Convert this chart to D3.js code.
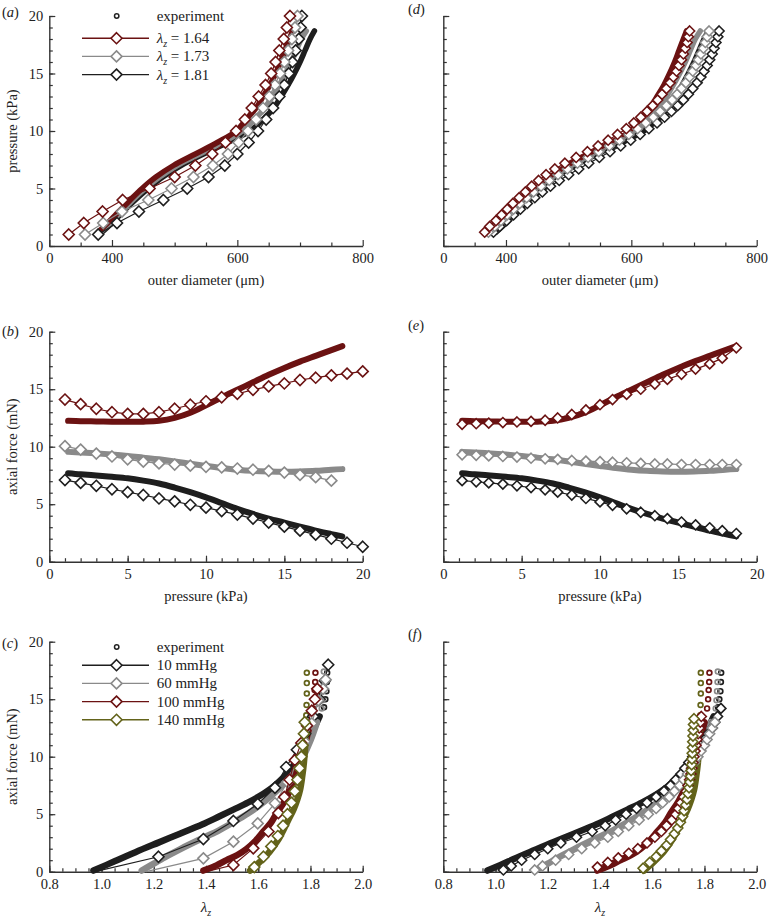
<!DOCTYPE html>
<html>
<head>
<meta charset="utf-8">
<script src="https://cdn.jsdelivr.net/npm/d3@7"></script>
<style>
body { margin: 0; background: #fff; }
svg text { font-family: "Liberation Serif", "DejaVu Serif", serif; fill: #222; }
</style>
</head>
<body>
<div id="chart"></div>
<script>
// ---------- data ----------
// (a)/(d): pressure (kPa) vs outer diameter (um), experiment
var expP = [1.2, 2, 3, 4, 5, 6, 7, 8, 9, 10, 11, 12, 13, 14, 15, 16, 17, 18, 18.7];
var expDiamRed   = [378, 393, 411, 429, 448, 470, 498, 533, 568, 598, 614, 630, 641, 652, 661, 669, 676, 683, 688];
var expDiamGray  = [381, 397, 415, 433, 453, 476, 504, 540, 576, 608, 627, 644, 656, 667, 677, 686, 694, 702, 710];
var expDiamBlack = [384, 400, 418, 437, 458, 481, 510, 546, 584, 620, 641, 658, 670, 681, 691, 700, 708, 716, 723];

// (a) model, pressure 1..20 kPa
var modP = [1, 2, 3, 4, 5, 6, 7, 8, 9, 10, 11, 12, 13, 14, 15, 16, 17, 18, 19, 20];
var modDiamRed   = [331, 355, 385, 417, 460, 500, 533, 560, 581, 598, 612, 623, 634, 645, 654, 661, 667, 674, 679, 684];
var modDiamGray  = [357, 386, 416, 458, 495, 530, 561, 585, 602, 617, 630, 641, 651, 660, 668, 675, 681, 687, 692, 696];
var modDiamBlack = [378, 408, 443, 482, 520, 554, 580, 600, 618, 633, 646, 657, 667, 675, 682, 688, 693, 698, 701, 703];

// (d) model, finer pressure steps
var fineP = [1.2, 1.7, 2.2, 2.7, 3.2, 3.7, 4.2, 4.7, 5.2, 5.7, 6.2, 6.7, 7.2, 7.7, 8.2, 8.7, 9.2, 9.7,
             10.2, 10.7, 11.2, 11.7, 12.2, 12.7, 13.2, 13.7, 14.2, 14.7, 15.2, 15.7, 16.2, 16.7, 17.2, 17.7, 18.2, 18.7];
var fitDiamRed   = [366, 374, 384, 393, 402, 411, 421, 431, 441, 452, 464, 478, 494, 512, 530, 547, 563, 578,
                    592, 604, 615, 625, 634, 642, 649, 656, 662, 667, 672, 676, 680, 683, 686, 689, 691, 693];
var fitDiamGray  = [372, 382, 392, 402, 412, 422, 433, 444, 456, 469, 483, 498, 514, 531, 548, 565, 581, 596,
                    610, 623, 635, 646, 656, 665, 673, 680, 687, 693, 698, 703, 707, 711, 715, 718, 721, 724];
var fitDiamBlack = [380, 390, 401, 412, 423, 434, 446, 458, 471, 485, 500, 516, 532, 549, 566, 583, 599, 614,
                    628, 641, 653, 664, 674, 683, 691, 698, 705, 711, 716, 721, 725, 729, 732, 735, 738, 740];

// (b)/(e): axial force (mN) vs pressure, experiment on expP
var expForceRed   = [12.25, 12.22, 12.2, 12.18, 12.17, 12.18, 12.25, 12.5, 12.95, 13.6, 14.3, 14.95, 15.6, 16.25, 16.85, 17.4, 17.9, 18.4, 18.75];
var expForceGray  = [9.55, 9.5, 9.42, 9.32, 9.2, 9.05, 8.9, 8.72, 8.52, 8.33, 8.15, 8.0, 7.9, 7.85, 7.83, 7.85, 7.9, 8.0, 8.05];
var expForceBlack = [7.7, 7.6, 7.5, 7.38, 7.25, 7.05, 6.8, 6.45, 6.05, 5.6, 5.1, 4.6, 4.15, 3.75, 3.4, 3.05, 2.7, 2.4, 2.2];

// (b) model
var modForceRed   = [14.1, 13.7, 13.3, 13.0, 12.85, 12.85, 13.0, 13.3, 13.65, 13.95, 14.3, 14.6, 14.95, 15.25, 15.5, 15.8, 16.0, 16.2, 16.35, 16.55];
var modPGray      = [1, 2, 3, 4, 5, 6, 7, 8, 9, 10, 11, 12, 13, 14, 15, 16, 17, 18];
var modForceGray  = [10.05, 9.75, 9.4, 9.15, 8.9, 8.7, 8.55, 8.45, 8.35, 8.25, 8.2, 8.1, 8.0, 7.9, 7.75, 7.55, 7.35, 7.05];
var modForceBlack = [7.1, 6.85, 6.6, 6.3, 6.05, 5.8, 5.5, 5.25, 4.95, 4.7, 4.4, 4.1, 3.75, 3.4, 3.05, 2.7, 2.35, 2.0, 1.65, 1.3];

// (e) model
var fitP = [1.2, 2.1, 2.9, 3.8, 4.7, 5.6, 6.5, 7.3, 8.2, 9.1, 10.0, 10.8, 11.7, 12.6, 13.5, 14.3, 15.2, 16.1, 17.0, 17.8, 18.7];
var fitForceRed   = [11.95, 12.0, 12.05, 12.1, 12.15, 12.2, 12.3, 12.5, 12.8, 13.2, 13.65, 14.1, 14.55, 15.0, 15.45, 15.85, 16.3, 16.75, 17.2, 17.7, 18.6];
var fitForceGray  = [9.3, 9.25, 9.2, 9.15, 9.1, 9.0, 8.95, 8.9, 8.8, 8.75, 8.7, 8.65, 8.6, 8.55, 8.5, 8.5, 8.45, 8.45, 8.45, 8.45, 8.45];
var fitForceBlack = [7.05, 6.95, 6.85, 6.75, 6.6, 6.45, 6.25, 6.05, 5.8, 5.5, 5.2, 4.9, 4.6, 4.3, 4.0, 3.75, 3.45, 3.2, 2.95, 2.7, 2.45];

// (c)/(f): axial force vs lambda_z, experiment (dense part)
var exp10Lam  = [0.969, 1.05, 1.13, 1.22, 1.30, 1.385, 1.45, 1.505, 1.56, 1.607, 1.65, 1.683, 1.721, 1.75, 1.78, 1.81, 1.835];
var exp10F    = [0.1, 0.9, 1.7, 2.55, 3.3, 4.1, 4.8, 5.4, 6.0, 6.6, 7.25, 7.9, 8.8, 9.8, 11.0, 12.3, 13.5];
var exp60Lam  = [1.154, 1.2, 1.25, 1.3, 1.39, 1.45, 1.505, 1.56, 1.607, 1.65, 1.683, 1.734, 1.77, 1.80, 1.825];
var exp60F    = [0.1, 0.7, 1.35, 1.95, 2.95, 3.6, 4.3, 5.05, 5.8, 6.6, 7.3, 8.5, 9.9, 11.4, 13.0];
var exp100Lam = [1.39, 1.44, 1.479, 1.52, 1.556, 1.59, 1.62, 1.65, 1.671, 1.70, 1.722, 1.745, 1.765, 1.785, 1.80];
var exp100F   = [0.1, 0.55, 1.0, 1.45, 2.0, 2.7, 3.5, 4.3, 5.1, 6.1, 7.1, 8.5, 10.0, 11.6, 13.0];
var exp140Lam = [1.569, 1.607, 1.635, 1.658, 1.68, 1.696, 1.715, 1.735, 1.75, 1.76, 1.768, 1.775, 1.78, 1.783];
var exp140F   = [0.1, 0.87, 1.5, 2.17, 2.9, 3.6, 4.5, 5.4, 6.3, 7.1, 8.2, 9.5, 11.0, 12.5];
// experiment, sparse top points
var top10Lam  = [1.852, 1.857, 1.861, 1.863, 1.864];
var top10F    = [14.3, 15.0, 15.7, 16.5, 17.3];
var top60Lam  = [1.843, 1.846, 1.848, 1.85, 1.851];
var top60F    = [14.2, 14.9, 15.7, 16.5, 17.4];
var top100Lam = [1.81, 1.814, 1.816, 1.818, 1.819];
var top100F   = [14.2, 15.0, 15.8, 16.5, 17.3];
var top140Lam = [1.784, 1.785, 1.786, 1.786, 1.786];
var top140F   = [13.6, 14.5, 15.5, 16.4, 17.3];

// (c) model
var mod10Lam  = [0.975, 1.218, 1.39, 1.505, 1.598, 1.664, 1.707, 1.748, 1.78, 1.81, 1.835, 1.855, 1.868];
var mod10F    = [0, 1.3, 2.84, 4.41, 5.89, 7.3, 9.1, 10.6, 12.0, 13.5, 15.0, 16.6, 18.0];
var mod60Lam  = [1.17, 1.39, 1.505, 1.598, 1.664, 1.712, 1.748, 1.778, 1.805, 1.83, 1.848, 1.858];
var mod60F    = [0, 1.16, 2.61, 4.2, 5.95, 7.8, 9.6, 11.3, 12.9, 14.9, 15.9, 16.7];
var mod100Lam = [1.40, 1.505, 1.581, 1.639, 1.677, 1.70, 1.72, 1.74, 1.765, 1.787, 1.805, 1.817, 1.826];
var mod100F   = [0, 0.58, 2.03, 3.5, 5.1, 6.5, 8.0, 9.7, 11.2, 12.7, 14.0, 15.0, 15.9];
var mod140Lam = [1.585, 1.62, 1.65, 1.675, 1.695, 1.712, 1.727, 1.74, 1.75, 1.758, 1.765, 1.77, 1.775, 1.778];
var mod140F   = [0.4, 1.3, 2.2, 3.1, 4.0, 5.0, 6.0, 7.0, 8.0, 9.0, 10.0, 11.0, 12.0, 13.0];

// (f) model
var fit10F    = [0.15, 0.5, 1, 1.5, 2, 2.5, 3, 3.5, 4, 4.5, 5, 5.5, 6, 6.5, 7, 7.5, 8, 8.5, 9, 9.5, 10, 10.5, 11, 11.5, 12, 12.5, 13, 13.5, 14.2];
var fit10Lam  = [1.03, 1.06, 1.10, 1.15, 1.20, 1.25, 1.31, 1.37, 1.42, 1.46, 1.50, 1.54, 1.58, 1.615, 1.645, 1.67, 1.69, 1.71, 1.725, 1.74, 1.755, 1.77, 1.785, 1.80, 1.815, 1.83, 1.84, 1.85, 1.863];
var fit60F    = [0.15, 0.5, 1, 1.5, 2, 2.5, 3, 3.5, 4, 4.5, 5, 5.5, 6, 6.5, 7, 7.5, 8, 8.5, 9, 9.5, 10, 10.5, 11, 11.5, 12, 12.5, 13];
var fit60Lam  = [1.15, 1.18, 1.23, 1.28, 1.33, 1.38, 1.43, 1.47, 1.51, 1.55, 1.585, 1.615, 1.64, 1.665, 1.685, 1.705, 1.72, 1.735, 1.75, 1.762, 1.775, 1.787, 1.80, 1.81, 1.82, 1.83, 1.84];
var fit100F   = [0.4, 0.8, 1.2, 1.6, 2, 2.5, 3, 3.5, 4, 4.5, 5, 5.5, 6, 6.5, 7, 7.5, 8, 8.5, 9, 9.5, 10, 10.5, 11, 11.5, 12, 12.5, 13, 13.5];
var fit100Lam = [1.39, 1.43, 1.47, 1.51, 1.545, 1.58, 1.61, 1.635, 1.655, 1.675, 1.69, 1.70, 1.71, 1.72, 1.73, 1.737, 1.743, 1.748, 1.752, 1.756, 1.76, 1.764, 1.768, 1.772, 1.776, 1.78, 1.784, 1.788];
var fit140F   = [0.3, 0.8, 1.3, 1.8, 2.3, 2.8, 3.3, 3.8, 4.3, 4.8, 5.3, 5.8, 6.3, 6.8, 7.3, 7.8, 8.3, 8.8, 9.3, 9.8, 10.3, 10.8, 11.3, 11.8, 12.3, 12.8, 13.3];
var fit140Lam = [1.565, 1.59, 1.615, 1.635, 1.655, 1.67, 1.685, 1.698, 1.708, 1.716, 1.722, 1.728, 1.733, 1.737, 1.741, 1.744, 1.747, 1.749, 1.751, 1.752, 1.753, 1.754, 1.755, 1.756, 1.757, 1.758, 1.76];

// legend labels and ticks
var lambdaLabels = ["1.64", "1.73", "1.81"];
var pressureLabels = ["10 mmHg", "60 mmHg", "100 mmHg", "140 mmHg"];
var forceTicks = [0, 5, 10, 15, 20];

// colours
var cRed = "#6b1212", cGray = "#8a8a8a", cBlack = "#1e1e1e", cOlive = "#63631a";
var serif = "'Liberation Serif', 'DejaVu Serif', serif";

// ---------- svg ----------
var svg = d3.select("#chart").append("svg")
  .attr("width", 769)
  .attr("height", 923)
  .style("font-family", serif);

var plotW = 313.4, plotH = 230;

function range(a, b, s) { return d3.range(a, b + s / 2, s); }

function makePanel(o) {
  var x = d3.scaleLinear().domain(o.xDomain).range([o.left, o.left + plotW]);
  var y = d3.scaleLinear().domain([0, 20]).range([o.bottom, o.bottom - plotH]);
  var g = svg.append("g");

  // minor ticks
  g.append("g").attr("transform", "translate(0," + o.bottom + ")")
    .call(d3.axisBottom(x).tickValues(o.xMinor).tickSize(-3.5).tickFormat(""))
    .call(function(s) { s.select(".domain").remove(); });
  g.append("g").attr("transform", "translate(" + o.left + ",0)")
    .call(d3.axisLeft(y).tickValues(range(0, 20, 1)).tickSize(-3.5).tickFormat(""))
    .call(function(s) { s.select(".domain").remove(); });

  // major ticks
  g.append("g").attr("transform", "translate(0," + o.bottom + ")")
    .call(d3.axisBottom(x).tickValues(o.xMajor).tickSize(-6).tickSizeOuter(0).tickPadding(7).tickFormat(o.xFmt));
  g.append("g").attr("transform", "translate(" + o.left + ",0)")
    .call(d3.axisLeft(y).tickValues(forceTicks).tickSize(-6).tickSizeOuter(0).tickPadding(6)
      .tickFormat(o.showY ? d3.format("d") : ""));

  g.selectAll("g").attr("font-family", serif).attr("font-size", 14.5);
  g.selectAll(".tick line").attr("stroke", "#333").attr("stroke-width", 1.2);
  g.selectAll(".domain").attr("stroke", "#333").attr("stroke-width", 1.4);
  g.selectAll(".tick text").attr("fill", "#222").style("font-family", serif);

  // x title
  var xt = g.append("text")
    .attr("x", o.left + plotW / 2).attr("y", o.xTitleY)
    .attr("text-anchor", "middle").style("font-size", "14.5px");
  if (o.xTitle === "lambda") {
    xt.append("tspan").style("font-style", "italic").style("font-size", "15px").text("λ");
    xt.append("tspan").style("font-style", "italic").style("font-size", "10px").attr("dy", 4).text("z");
  } else {
    xt.text(o.xTitle);
  }

  // y title
  if (o.yTitle) {
    g.append("text")
      .attr("transform", "translate(17," + (o.bottom - plotH / 2) + ") rotate(-90)")
      .attr("text-anchor", "middle").style("font-size", "14.5px")
      .text(o.yTitle);
  }

  // panel tag
  var tag = g.append("text").attr("x", o.tagX).attr("y", o.tagY).style("font-size", "14.5px");
  tag.append("tspan").text("(");
  tag.append("tspan").style("font-style", "italic").text(o.tag);
  tag.append("tspan").text(")");

  return { g: g, x: x, y: y };
}

function diamondPath(r) {
  return "M0," + (-r) + "L" + r + ",0L0," + r + "L" + (-r) + ",0Z";
}

// experiment drawn as a thick band of dense points
function band(p, xs, ys, color, w) {
  var pts = xs.map(function(d, i) { return [d, ys[i]]; });
  var line = d3.line()
    .x(function(d) { return p.x(d[0]); })
    .y(function(d) { return p.y(d[1]); })
    .curve(d3.curveCatmullRom.alpha(0.5));
  p.g.append("path").datum(pts)
    .attr("d", line)
    .attr("fill", "none")
    .attr("stroke", color)
    .attr("stroke-width", w || 6)
    .attr("stroke-linecap", "round")
    .attr("stroke-linejoin", "round");
}

function circles(p, xs, ys, color) {
  p.g.selectAll(null).data(xs).enter().append("circle")
    .attr("cx", function(d) { return p.x(d); })
    .attr("cy", function(d, i) { return p.y(ys[i]); })
    .attr("r", 2.4)
    .attr("fill", "none")
    .attr("stroke", color)
    .attr("stroke-width", 1.7);
}

// model: thin line with open diamonds
function modelMarks(p, xs, ys, color, r) {
  var pts = xs.map(function(d, i) { return [d, ys[i]]; });
  var line = d3.line()
    .x(function(d) { return p.x(d[0]); })
    .y(function(d) { return p.y(d[1]); });
  p.g.append("path").datum(pts)
    .attr("d", line)
    .attr("fill", "none")
    .attr("stroke", color)
    .attr("stroke-width", 1.2);
  p.g.selectAll(null).data(pts.filter(function(d) { return d[1] > 0; })).enter()
    .append("path")
    .attr("d", diamondPath(r))
    .attr("transform", function(d) { return "translate(" + p.x(d[0]) + "," + p.y(d[1]) + ")"; })
    .attr("fill", "#fff")
    .attr("stroke", color)
    .attr("stroke-width", 1.6);
}

var diamFmt = function(d) { return d === 300 ? "0" : d; };
var diamMinor = [350, 450, 500, 550, 650, 700, 750];
var colL = 49.3, colR = 443.3;

var pa = makePanel({ left: colL, bottom: 246, xDomain: [300, 800], xMajor: [300, 400, 600, 800], xMinor: diamMinor,
  xFmt: diamFmt, showY: true, xTitle: "outer diameter (μm)", xTitleY: 285, yTitle: "pressure (kPa)",
  tag: "a", tagX: 2, tagY: 17 });
var pd = makePanel({ left: colR, bottom: 246, xDomain: [300, 800], xMajor: [300, 400, 600, 800], xMinor: diamMinor,
  xFmt: diamFmt, showY: false, xTitle: "outer diameter (μm)", xTitleY: 285,
  tag: "d", tagX: 408, tagY: 14 });
var pb = makePanel({ left: colL, bottom: 561.7, xDomain: [0, 20], xMajor: [0, 5, 10, 15, 20], xMinor: range(0, 20, 1),
  xFmt: d3.format("d"), showY: true, xTitle: "pressure (kPa)", xTitleY: 601, yTitle: "axial force (mN)",
  tag: "b", tagX: 2, tagY: 336 });
var pe = makePanel({ left: colR, bottom: 561.7, xDomain: [0, 20], xMajor: [0, 5, 10, 15, 20], xMinor: range(0, 20, 1),
  xFmt: d3.format("d"), showY: false, xTitle: "pressure (kPa)", xTitleY: 601,
  tag: "e", tagX: 408, tagY: 330 });
var pc = makePanel({ left: colL, bottom: 871.7, xDomain: [0.8, 2.0], xMajor: range(0.8, 2.0, 0.2), xMinor: range(0.8, 2.0, 0.05),
  xFmt: d3.format(".1f"), showY: true, xTitle: "lambda", xTitleY: 912, yTitle: "axial force (mN)",
  tag: "c", tagX: 2, tagY: 648 });
var pf = makePanel({ left: colR, bottom: 871.7, xDomain: [0.8, 2.0], xMajor: range(0.8, 2.0, 0.2), xMinor: range(0.8, 2.0, 0.05),
  xFmt: d3.format(".1f"), showY: false, xTitle: "lambda", xTitleY: 912,
  tag: "f", tagX: 408, tagY: 639 });

// (a)
band(pa, expDiamBlack, expP, cBlack, 5.5);
band(pa, expDiamGray, expP, cGray, 5.5);
band(pa, expDiamRed, expP, cRed, 5.5);
modelMarks(pa, modDiamBlack, modP, cBlack, 5.5);
modelMarks(pa, modDiamGray, modP, cGray, 5.5);
modelMarks(pa, modDiamRed, modP, cRed, 5.5);

// (d)
band(pd, expDiamBlack, expP, cBlack, 5.5);
band(pd, expDiamGray, expP, cGray, 5.5);
band(pd, expDiamRed, expP, cRed, 5.5);
modelMarks(pd, fitDiamBlack, fineP, cBlack, 5);
modelMarks(pd, fitDiamGray, fineP, cGray, 5);
modelMarks(pd, fitDiamRed, fineP, cRed, 5);

// (b)
band(pb, expP, expForceRed, cRed);
band(pb, expP, expForceGray, cGray);
band(pb, expP, expForceBlack, cBlack);
modelMarks(pb, modP, modForceRed, cRed, 5.5);
modelMarks(pb, modPGray, modForceGray, cGray, 5.5);
modelMarks(pb, modP, modForceBlack, cBlack, 5.5);

// (e)
band(pe, expP, expForceRed, cRed);
band(pe, expP, expForceGray, cGray);
band(pe, expP, expForceBlack, cBlack);
modelMarks(pe, fitP, fitForceRed, cRed, 5);
modelMarks(pe, fitP, fitForceGray, cGray, 5);
modelMarks(pe, fitP, fitForceBlack, cBlack, 5);

// (c) and (f)
[pc, pf].forEach(function(p) {
  band(p, exp10Lam, exp10F, cBlack, 6.5);
  band(p, exp60Lam, exp60F, cGray, 6.5);
  band(p, exp100Lam, exp100F, cRed, 6.5);
  band(p, exp140Lam, exp140F, cOlive, 6.5);
  circles(p, top10Lam, top10F, cBlack);
  circles(p, top60Lam, top60F, cGray);
  circles(p, top100Lam, top100F, cRed);
  circles(p, top140Lam, top140F, cOlive);
});
modelMarks(pc, mod10Lam, mod10F, cBlack, 5.5);
modelMarks(pc, mod60Lam, mod60F, cGray, 5.5);
modelMarks(pc, mod100Lam, mod100F, cRed, 5.5);
modelMarks(pc, mod140Lam, mod140F, cOlive, 5.5);

modelMarks(pf, fit10Lam, fit10F, cBlack, 5);
modelMarks(pf, fit60Lam, fit60F, cGray, 5);
modelMarks(pf, fit100Lam, fit100F, cRed, 5);
modelMarks(pf, fit140Lam, fit140F, cOlive, 5);

// ---------- legends ----------
function legend(g, top, step, colors, labels, isLambda) {
  g.append("circle").attr("cx", 116.7).attr("cy", top).attr("r", 2.2)
    .attr("fill", "none").attr("stroke", "#222").attr("stroke-width", 1.5);
  g.append("text").attr("x", 156.7).attr("y", top + 4.5).style("font-size", "15px").text("experiment");
  labels.forEach(function(lab, i) {
    var cy = top + step * (i + 1) + (isLambda ? 4 : 0);
    g.append("line").attr("x1", 82).attr("x2", 149).attr("y1", cy).attr("y2", cy)
      .attr("stroke", colors[i]).attr("stroke-width", 1.4);
    g.append("path").attr("d", diamondPath(5.5)).attr("transform", "translate(116.5," + cy + ")")
      .attr("fill", "#fff").attr("stroke", colors[i]).attr("stroke-width", 1.6);
    var t = g.append("text").attr("x", 156.7).attr("y", cy + 5).style("font-size", "15px");
    if (isLambda) {
      t.append("tspan").style("font-style", "italic").text("λ");
      t.append("tspan").style("font-style", "italic").style("font-size", "10px").attr("dy", 4).text("z");
      t.append("tspan").attr("dy", -4).text(" = " + lab);
    } else {
      t.text(lab);
    }
  });
}
legend(pa.g, 16, 18.2, [cRed, cGray, cBlack], lambdaLabels, true);
legend(pc.g, 647, 18.2, [cBlack, cGray, cRed, cOlive], pressureLabels, false);
</script>
</body>
</html>
